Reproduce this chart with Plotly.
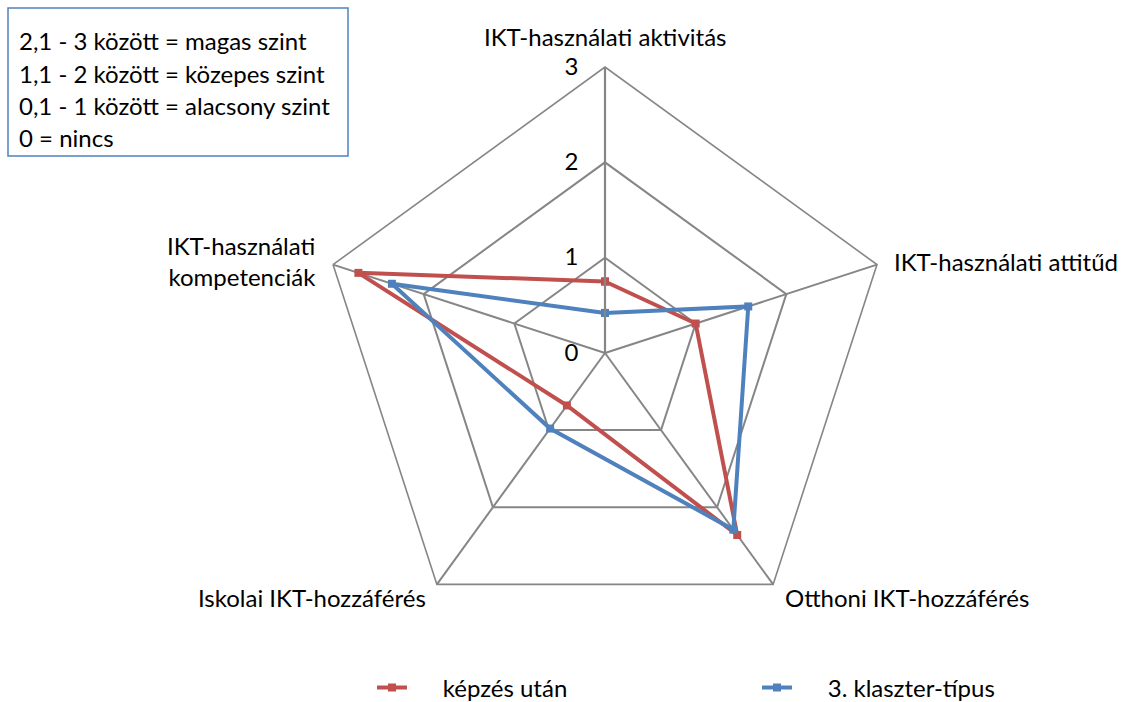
import math
import plotly.graph_objects as go

categories = ["IKT-használati aktivitás", "IKT-használati attitűd", "Otthoni IKT-hozzáférés",
              "Iskolai IKT-hozzáférés", "IKT-használati kompetenciák"]
category_labels = ["IKT-használati aktivitás", "IKT-használati attitűd", "Otthoni IKT-hozzáférés",
                   "Iskolai IKT-hozzáférés", "IKT-használati<br>kompetenciák"]
red_name = "képzés után"
red_values = [0.75, 1.0, 2.36, 0.68, 2.72]
blue_name = "3. klaszter-típus"
blue_values = [0.42, 1.58, 2.29, 0.98, 2.35]
radial_ticks = [0, 1, 2, 3]
box_lines = ["2,1 - 3 között = magas szint", "1,1 - 2 között = közepes szint",
             "0,1 - 1 között = alacsony szint", "0 = nincs"]

FONT = "Lato"
FS = 24
W, H = 1128, 702
cx, cy, R = 605, 353, 286

fig = go.Figure()
for name, vals, col in [(red_name, red_values, "#C0504D"), (blue_name, blue_values, "#4F81BD")]:
    fig.add_trace(go.Scatterpolar(
        r=vals + vals[:1], theta=categories + categories[:1], name="     " + name,
        mode="lines+markers", line=dict(color=col, width=4),
        marker=dict(symbol="square", size=8, color=col)))

fig.update_layout(
    width=W, height=H, margin=dict(l=0, r=0, t=0, b=0, autoexpand=False),
    paper_bgcolor="white", plot_bgcolor="white",
    font=dict(family=FONT, size=FS, color="black"),
    polar=dict(
        domain=dict(x=[(cx - R) / W, (cx + R) / W], y=[(H - cy - R) / H, (H - cy + R) / H]),
        gridshape="linear", bgcolor="white",
        radialaxis=dict(range=[0, 3], tickvals=radial_ticks, angle=90, side="counterclockwise",
                        showline=True, linecolor="#868686", linewidth=2.2, gridcolor="#868686",
                        gridwidth=1.6, ticks="outside", ticklen=17, tickcolor="rgba(0,0,0,0)",
                        tickangle=90, tickfont=dict(size=FS, family=FONT)),
        angularaxis=dict(direction="clockwise", rotation=90, showline=True, linecolor="#868686",
                         linewidth=1.6, gridcolor="#868686", gridwidth=1.6, ticks="",
                         showticklabels=False),
    ),
    legend=dict(orientation="h", x=372 / W, y=(H - 688) / H, xanchor="left", yanchor="middle",
                entrywidth=340, entrywidthmode="pixels", font=dict(size=FS, family=FONT)),
    showlegend=True,
)

# category labels placed just outside each outer vertex of the pentagon
label_style = [("center", 0, -30), ("left", 15, -3), ("left", 10, 13), ("right", -9, 13), ("right", -15, -4)]
for i, (lab, (xa, dx, dy)) in enumerate(zip(category_labels, label_style)):
    ang = math.radians(90 - 72 * i)
    vx, vy = cx + R * math.cos(ang), cy - R * math.sin(ang)
    fig.add_annotation(text=lab, xref="paper", yref="paper", x=(vx + dx) / W, y=(H - (vy + dy)) / H,
                       xanchor=xa, yanchor="middle", align=xa if xa != "center" else "center",
                       showarrow=False, font=dict(size=FS, family=FONT))

fig.add_shape(type="rect", xref="paper", yref="paper", x0=8 / W, x1=348 / W,
              y0=(H - 156) / H, y1=(H - 8) / H, line=dict(color="#4F81BD", width=1.5))
for i, t in enumerate(box_lines):
    fig.add_annotation(text=t, xref="paper", yref="paper", x=17 / W, y=(H - (41 + 32 * i)) / H,
                       xanchor="left", yanchor="middle", showarrow=False, font=dict(size=FS, family=FONT))

fig.write_html("out.html", config={"displayModeBar": False},
               post_script="document.body.style.margin='0';")
